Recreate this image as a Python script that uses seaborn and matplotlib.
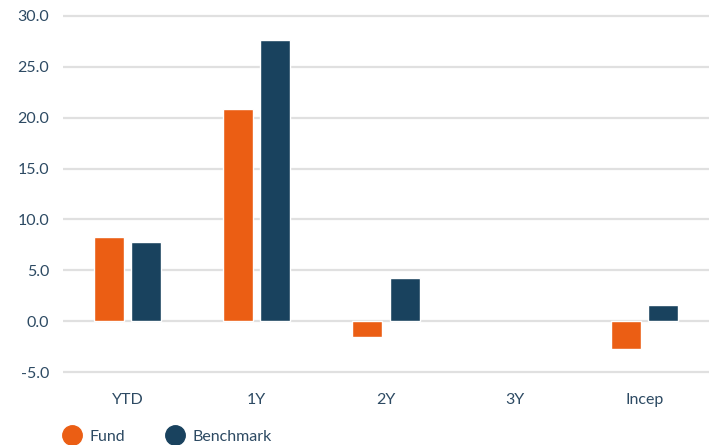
import numpy as np
import pandas as pd
import matplotlib
matplotlib.use("Agg")
import matplotlib.pyplot as plt
from matplotlib.lines import Line2D
import seaborn as sns

categories = ["YTD", "1Y", "2Y", "3Y", "Incep"]
fund = [8.3, 20.8, -1.5, np.nan, -2.7]
benchmark = [7.8, 27.6, 4.3, np.nan, 1.6]
series_names = ["Fund", "Benchmark"]
colors = ["#EB5E14", "#19425E"]
yticks = [-5, 0, 5, 10, 15, 20, 25, 30]

df = pd.DataFrame({
    "period": categories * 2,
    "value": fund + benchmark,
    "series": [series_names[0]] * len(categories) + [series_names[1]] * len(categories),
})

sns.set_theme(style="white")
plt.rcParams["font.family"] = ["Lato", "DejaVu Sans"]
text_color = "#2d4a63"

fig = plt.figure(figsize=(7.19, 4.45), dpi=100)
ax = fig.add_axes([63 / 719, 1 - 374.5 / 445, 646 / 719, (374.5 - 13.5) / 445])

sns.barplot(data=df, x="period", y="value", hue="series", order=categories,
            hue_order=series_names, palette=colors, width=0.574, gap=0.19,
            saturation=1, ax=ax, legend=False, errorbar=None)

ax.set_ylim(-5.2, 30.2)
ax.set_xlim(-0.5, 4.5)
ax.set_yticks(yticks)
ax.set_yticklabels([f"{v:.1f}" for v in yticks])
ax.yaxis.grid(True, color="#e0e0e0", linewidth=1.6)
ax.set_axisbelow(True)
for s in ax.spines.values():
    s.set_visible(False)
ax.set_xlabel("")
ax.set_ylabel("")
ax.tick_params(axis="both", length=0, labelsize=11.5, labelcolor=text_color)
ax.tick_params(axis="y", pad=10)
ax.tick_params(axis="x", pad=13)

handles = [Line2D([], [], marker="o", linestyle="", markersize=14,
                  markerfacecolor=c, markeredgecolor=c) for c in colors]
fig.legend(handles, series_names, loc="lower left", bbox_to_anchor=(48 / 719, -0.03),
           ncol=2, frameon=False, fontsize=11.5, labelcolor=text_color,
           handletextpad=0.5, columnspacing=2.5, handlelength=1.2)

fig.savefig("out.png", dpi=100)
